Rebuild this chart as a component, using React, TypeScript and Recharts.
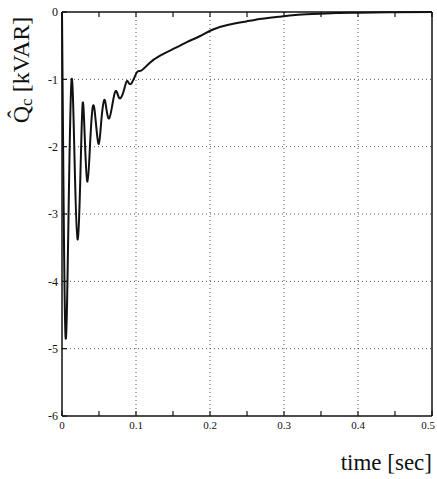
import { LineChart, Line, XAxis, YAxis, CartesianGrid } from "recharts";

// time axis in seconds, estimated from the plot
const time = [
  0, 0.002, 0.005, 0.009, 0.013, 0.017, 0.021, 0.025, 0.028, 0.031, 0.0345, 0.038, 0.042, 0.046,
  0.0498, 0.053, 0.057, 0.06, 0.0637, 0.068, 0.072, 0.0755, 0.079, 0.084, 0.088, 0.093, 0.101,
  0.107, 0.118, 0.132, 0.154, 0.17, 0.186, 0.204, 0.225, 0.249, 0.27, 0.293, 0.315, 0.338, 0.37,
  0.401, 0.45, 0.5,
];
// Qc in kVAR
const qc = [
  0, -2.6, -4.85, -2.9, -1.0, -2.2, -3.38, -2.37, -1.35, -1.93, -2.52, -1.95, -1.39, -1.67, -1.96,
  -1.63, -1.31, -1.44, -1.58, -1.38, -1.18, -1.23, -1.28, -1.15, -1.02, -1.07, -0.9, -0.87, -0.76,
  -0.65, -0.53, -0.44, -0.36, -0.26, -0.19, -0.14, -0.1, -0.07, -0.045, -0.03, -0.015, -0.01,
  -0.003, 0,
];

const xTicks = [0, 0.05, 0.1, 0.15, 0.2, 0.25, 0.3, 0.35, 0.4, 0.45, 0.5];
const xGrid = [0.1, 0.2, 0.3, 0.4];
const yTicks = [-6, -5, -4, -3, -2, -1, 0];

const data = time.map((t, i) => ({ t, q: qc[i] }));

const font = "'Liberation Serif', 'DejaVu Serif', serif";

function XTick(props: any) {
  const { x, y, payload } = props;
  const v = payload.value as number;
  if (Math.round(v * 100) % 10 !== 0) return null;
  const label = String(Math.round(v * 10) / 10);
  const dx = v >= 0.5 ? -4 : 0;
  return (
    <text x={x + dx} y={y} dy="0.71em" textAnchor="middle" fontFamily={font} fontSize={11} fill="#111">
      {label}
    </text>
  );
}

function YLabel() {
  const cx = 21;
  const cy = 70;
  return (
    <text
      x={cx}
      y={cy}
      transform={`rotate(-90 ${cx} ${cy})`}
      textAnchor="middle"
      dominantBaseline="central"
      fontFamily={font}
      fontSize={24}
      fill="#111"
    >
      Q̂<tspan fontSize={17} dy={5}>c</tspan>
      <tspan dy={-5}> [kVAR]</tspan>
    </text>
  );
}

function XLabel() {
  return (
    <text x={432} y={470} textAnchor="end" fontFamily={font} fontSize={23} fill="#111">
      time [sec]
    </text>
  );
}

export default function App() {
  return (
    <div style={{ position: "absolute", left: 0, top: 0, background: "#fff" }}>
      <LineChart width={437} height={479} data={data} margin={{ top: 11, right: 4, bottom: 43, left: 37 }}>
        <CartesianGrid
          xAxisId="grid"
          stroke="#555"
          strokeDasharray="1 3"
          verticalValues={xGrid}
          horizontalValues={[-5, -4, -3, -2, -1]}
        />
        <XAxis xAxisId="grid" dataKey="t" type="number" domain={[0, 0.5]} ticks={xGrid} hide />
        <XAxis
          dataKey="t"
          type="number"
          domain={[0, 0.5]}
          ticks={xTicks}
          interval={0}
          height={20}
          axisLine={{ stroke: "#111", strokeWidth: 1.5 }}
          tickLine={{ stroke: "#111", strokeWidth: 1.2 }}
          tickSize={-5}
          tickMargin={10}
          tick={<XTick />}
          label={<XLabel />}
        />
        <XAxis
          xAxisId="top"
          orientation="top"
          dataKey="t"
          type="number"
          domain={[0, 0.5]}
          ticks={xTicks}
          interval={0}
          height={1}
          axisLine={{ stroke: "#111", strokeWidth: 1.5 }}
          tickLine={{ stroke: "#111", strokeWidth: 1.2 }}
          tickSize={-5}
          tickFormatter={() => ""}
        />
        <YAxis
          type="number"
          domain={[-6, 0]}
          ticks={yTicks}
          interval={0}
          width={25}
          axisLine={{ stroke: "#111", strokeWidth: 1.5 }}
          tickLine={{ stroke: "#111", strokeWidth: 1.2 }}
          tickSize={-5}
          tickMargin={9}
          tick={{ fill: "#111", fontFamily: font, fontSize: 12 }}
          label={<YLabel />}
        />
        <YAxis
          yAxisId="right"
          orientation="right"
          type="number"
          domain={[-6, 0]}
          ticks={yTicks}
          interval={0}
          width={1}
          axisLine={{ stroke: "#111", strokeWidth: 1.5 }}
          tickLine={{ stroke: "#111", strokeWidth: 1.2 }}
          tickSize={-5}
          tickFormatter={() => ""}
        />
        <Line
          dataKey="q"
          type="natural"
          stroke="#111"
          strokeWidth={2}
          dot={false}
          isAnimationActive={false}
        />
      </LineChart>
    </div>
  );
}
